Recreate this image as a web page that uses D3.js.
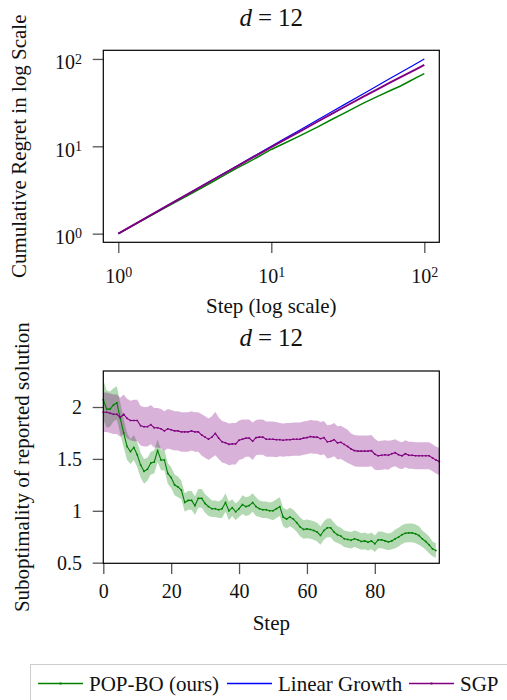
<!DOCTYPE html>
<html>
<head>
<meta charset="utf-8">
<script src="https://cdn.jsdelivr.net/npm/d3@7"></script>
<style>
  body { margin: 0; background: #fff; }
  svg { display: block; }
  text { font-family: "Liberation Serif", "Times New Roman", serif; fill: #111; }
</style>
</head>
<body>
<div id="chart"></div>
<script>
// ---- top panel: cumulative regret (log-log) ----
const regretSteps = [1, 2, 3, 4, 5, 6, 7, 8, 9, 10, 12, 15, 20, 25, 30, 40, 50, 60, 70, 80, 90, 100];
const regretPopbo = [1.0, 1.96, 2.88, 3.8, 4.75, 5.65, 6.5, 7.4, 8.3, 9.2, 10.7, 12.9, 16.6, 20.4, 24.0, 31.2, 37.5, 43.5, 49.0, 55.5, 62.0, 68.0];
const regretLinear = [1, 2, 3, 4, 5, 6, 7, 8, 9, 10, 12, 15, 20, 25, 30, 40, 50, 60, 70, 80, 90, 100];
const regretSgp = [1.0, 2.0, 2.99, 3.98, 4.95, 5.93, 6.9, 7.86, 8.82, 9.8, 11.7, 14.4, 19.1, 23.7, 28.2, 37.0, 45.5, 53.8, 62.0, 69.8, 77.6, 85.5];
const logTicks = [1, 10, 100];

// ---- bottom panel: suboptimality of reported solution ----
const popboMean = [2.07, 1.98, 1.98, 2.02, 2.04, 1.89, 1.75, 1.62, 1.57, 1.61,
  1.54, 1.44, 1.38, 1.40, 1.46, 1.47, 1.58, 1.49, 1.49, 1.36,
  1.32, 1.25, 1.23, 1.20, 1.08, 1.10, 1.10, 1.05, 1.12, 1.12,
  1.07, 1.04, 1.02, 1.02, 1.01, 1.02, 1.08, 1.00, 1.03, 0.99,
  1.02, 1.06, 1.04, 1.05, 1.08, 1.04, 1.02, 1.01, 1.01, 1.00,
  1.00, 1.02, 1.04, 0.94, 0.92, 0.94, 0.92, 0.885, 0.845, 0.82,
  0.826, 0.82, 0.81, 0.795, 0.762, 0.81, 0.836, 0.836, 0.795, 0.77,
  0.756, 0.73, 0.724, 0.716, 0.73, 0.72, 0.704, 0.71, 0.697, 0.71,
  0.682, 0.72, 0.72, 0.71, 0.70, 0.71, 0.73, 0.746, 0.77, 0.784,
  0.787, 0.787, 0.778, 0.762, 0.73, 0.704, 0.672, 0.633, 0.617];
const popboStd = [0.19, 0.18, 0.17, 0.16, 0.16, 0.15, 0.14, 0.13, 0.12, 0.12,
  0.12, 0.12, 0.12, 0.11, 0.11, 0.11, 0.11, 0.10, 0.10, 0.10,
  0.10, 0.10, 0.10, 0.09, 0.09, 0.09, 0.09, 0.09, 0.09, 0.09,
  0.09, 0.09, 0.08, 0.08, 0.08, 0.09, 0.09, 0.09, 0.08, 0.08,
  0.08, 0.09, 0.09, 0.09, 0.09, 0.09, 0.08, 0.08, 0.08, 0.08,
  0.09, 0.09, 0.09, 0.09, 0.09, 0.09, 0.09, 0.09, 0.09, 0.09,
  0.09, 0.09, 0.09, 0.09, 0.09, 0.09, 0.09, 0.09, 0.09, 0.08,
  0.08, 0.08, 0.08, 0.08, 0.08, 0.08, 0.08, 0.08, 0.08, 0.08,
  0.08, 0.08, 0.08, 0.08, 0.08, 0.08, 0.09, 0.09, 0.09, 0.09,
  0.09, 0.09, 0.09, 0.09, 0.08, 0.08, 0.08, 0.07, 0.07];
const sgpMean = [1.95, 1.95, 1.94, 1.93, 1.93, 1.90, 1.93, 1.89, 1.87, 1.87,
  1.87, 1.82, 1.81, 1.81, 1.83, 1.80, 1.80, 1.79, 1.77, 1.79,
  1.78, 1.77, 1.77, 1.76, 1.76, 1.76, 1.77, 1.76, 1.76, 1.73,
  1.71, 1.69, 1.71, 1.745, 1.70, 1.665, 1.655, 1.64, 1.645, 1.645,
  1.68, 1.69, 1.70, 1.70, 1.67, 1.705, 1.71, 1.71, 1.69, 1.69,
  1.69, 1.685, 1.685, 1.68, 1.685, 1.685, 1.69, 1.69, 1.69, 1.70,
  1.705, 1.715, 1.71, 1.71, 1.695, 1.705, 1.665, 1.67, 1.685, 1.655,
  1.66, 1.64, 1.62, 1.595, 1.58, 1.575, 1.575, 1.575, 1.575, 1.58,
  1.545, 1.53, 1.535, 1.54, 1.535, 1.55, 1.56, 1.54, 1.53, 1.55,
  1.535, 1.535, 1.53, 1.53, 1.53, 1.53, 1.53, 1.51, 1.49, 1.475];
const sgpStd = [0.19, 0.19, 0.19, 0.19, 0.19, 0.19, 0.19, 0.19, 0.19, 0.20,
  0.20, 0.19, 0.19, 0.19, 0.19, 0.19, 0.19, 0.19, 0.19, 0.19,
  0.19, 0.19, 0.19, 0.19, 0.19, 0.19, 0.19, 0.19, 0.19, 0.20,
  0.20, 0.20, 0.20, 0.21, 0.20, 0.20, 0.20, 0.20, 0.20, 0.20,
  0.19, 0.19, 0.18, 0.18, 0.18, 0.17, 0.17, 0.17, 0.17, 0.17,
  0.17, 0.17, 0.16, 0.16, 0.16, 0.16, 0.16, 0.16, 0.16, 0.16,
  0.16, 0.16, 0.16, 0.16, 0.16, 0.16, 0.16, 0.16, 0.16, 0.16,
  0.16, 0.16, 0.16, 0.15, 0.15, 0.15, 0.15, 0.15, 0.15, 0.15,
  0.15, 0.14, 0.14, 0.14, 0.14, 0.13, 0.13, 0.13, 0.13, 0.13,
  0.13, 0.13, 0.13, 0.13, 0.13, 0.13, 0.13, 0.13, 0.13, 0.13];
const subTicksX = [0, 20, 40, 60, 80];
const subTicksY = [0.5, 1, 1.5, 2];

const legendLabels = ["POP-BO (ours)", "Linear Growth", "SGP"];
const colors = { popbo: "#008000", linear: "#0000ff", sgp: "#800080" };

const W = 507, H = 700;
const svg = d3.select("#chart").append("svg").attr("width", W).attr("height", H);

const plotLeft = 103.3, plotRight = 439.3;
const tickColor = "#555";

function title(y) {
  const t = svg.append("text")
    .attr("x", (plotLeft + plotRight) / 2)
    .attr("y", y)
    .attr("text-anchor", "middle")
    .style("font-size", "25px");
  t.append("tspan").style("font-style", "italic").text("d");
  t.append("tspan").attr("dx", 6).text("=");
  t.append("tspan").attr("dx", 6).text("12");
}

function styleAxis(g) {
  g.select(".domain").remove();
  g.selectAll(".tick line").attr("stroke", tickColor).attr("stroke-width", 1.3);
  g.selectAll(".tick text").style("font-size", "20px").attr("fill", "#111")
    .style("font-family", "\"Liberation Serif\", \"Times New Roman\", serif");
}

function pow10Label(sel) {
  sel.each(function(d) {
    const t = d3.select(this);
    t.text(null);
    t.append("tspan").text("10");
    t.append("tspan").attr("dy", "-0.42em").style("font-size", "14px")
      .text(Math.round(Math.log10(d)));
  });
}

// ===== top panel =====
const topP = { y0: 50.3, y1: 242.3 };
const xLog = d3.scaleLog().domain([Math.pow(10, -0.098), Math.pow(10, 2.098)]).range([plotLeft, plotRight]);
const yLog = d3.scaleLog().domain([Math.pow(10, -0.099), Math.pow(10, 2.099)]).range([topP.y1, topP.y0]);

title(26);

const gxTop = svg.append("g").attr("transform", `translate(0,${topP.y1})`)
  .call(d3.axisBottom(xLog).tickValues(logTicks).tickSize(10.8));
styleAxis(gxTop);
gxTop.selectAll(".tick text").attr("y", 0).attr("dy", null).call(pow10Label)
  .attr("transform", "translate(0,40.7)");

const gyTop = svg.append("g").attr("transform", `translate(${plotLeft},0)`)
  .call(d3.axisLeft(yLog).tickValues(logTicks).tickSize(10.6).tickPadding(10.7));
styleAxis(gyTop);
gyTop.selectAll(".tick text").attr("dy", null).call(pow10Label)
  .attr("transform", "translate(0,10)");

const regretLine = vals => d3.line()
  .x((d, i) => xLog(regretSteps[i]))
  .y(d => yLog(d))(vals);

svg.append("path").attr("d", regretLine(regretPopbo))
  .attr("fill", "none").attr("stroke", colors.popbo).attr("stroke-width", 1.5);
svg.append("path").attr("d", regretLine(regretLinear))
  .attr("fill", "none").attr("stroke", colors.linear).attr("stroke-width", 1.2);
svg.append("path").attr("d", regretLine(regretSgp))
  .attr("fill", "none").attr("stroke", colors.sgp).attr("stroke-width", 1.9);

svg.append("rect").attr("x", plotLeft).attr("y", topP.y0)
  .attr("width", plotRight - plotLeft).attr("height", topP.y1 - topP.y0)
  .attr("fill", "none").attr("stroke", "#000").attr("stroke-width", 1.2);

svg.append("text").attr("transform", `translate(26,${(topP.y0 + topP.y1) / 2}) rotate(-90)`)
  .attr("text-anchor", "middle").style("font-size", "21px")
  .text("Cumulative Regret in log Scale");
svg.append("text").attr("x", (plotLeft + plotRight) / 2).attr("y", 313)
  .attr("text-anchor", "middle").style("font-size", "21px")
  .text("Step (log scale)");

// ===== bottom panel =====
const botP = { y0: 371, y1: 563.3 };
const xLin = d3.scaleLinear().domain([0, 99]).range([plotLeft, plotRight]);
const yLin = d3.scaleLinear().domain([0.494, 2.347]).range([botP.y1, botP.y0]);

title(346);

const gxBot = svg.append("g").attr("transform", `translate(0,${botP.y1})`)
  .call(d3.axisBottom(xLin).tickValues(subTicksX).tickSize(10.8).tickPadding(9.7).tickFormat(d3.format("d")));
styleAxis(gxBot);

const gyBot = svg.append("g").attr("transform", `translate(${plotLeft},0)`)
  .call(d3.axisLeft(yLin).tickValues(subTicksY).tickSize(10.6).tickPadding(10.7).tickFormat(d => String(d)));
styleAxis(gyBot);

const plotArea = svg.append("g");

function band(mean, std, color) {
  const area = d3.area()
    .x((d, i) => xLin(i))
    .y0((d, i) => yLin(d - std[i]))
    .y1((d, i) => yLin(d + std[i]));
  plotArea.append("path").attr("d", area(mean))
    .attr("fill", color).attr("fill-opacity", 0.3).attr("stroke", "none");
}
function meanLine(mean, color) {
  const line = d3.line().x((d, i) => xLin(i)).y(d => yLin(d));
  plotArea.append("path").attr("d", line(mean))
    .attr("fill", "none").attr("stroke", color).attr("stroke-width", 1.1);
  plotArea.append("g").selectAll("rect").data(mean).join("rect")
    .attr("x", (d, i) => xLin(i) - 0.8).attr("y", d => yLin(d) - 0.8)
    .attr("width", 1.6).attr("height", 1.6).attr("fill", color);
}

band(popboMean, popboStd, colors.popbo);
band(sgpMean, sgpStd, colors.sgp);
meanLine(popboMean, colors.popbo);
meanLine(sgpMean, colors.sgp);

svg.append("rect").attr("x", plotLeft).attr("y", botP.y0)
  .attr("width", plotRight - plotLeft).attr("height", botP.y1 - botP.y0)
  .attr("fill", "none").attr("stroke", "#000").attr("stroke-width", 1.2);

svg.append("text").attr("transform", `translate(29,${(botP.y0 + botP.y1) / 2}) rotate(-90)`)
  .attr("text-anchor", "middle").style("font-size", "21px")
  .text("Suboptimality of reported solution");
svg.append("text").attr("x", (plotLeft + plotRight) / 2).attr("y", 630)
  .attr("text-anchor", "middle").style("font-size", "21px")
  .text("Step");

// ===== legend =====
const legend = svg.append("g");
legend.append("rect").attr("x", 30.5).attr("y", 664.5).attr("width", 500).attr("height", 60)
  .attr("fill", "#fff").attr("stroke", "#ccc").attr("stroke-width", 1);

const legendItems = [
  { label: legendLabels[0], color: colors.popbo, x: 38, marker: true },
  { label: legendLabels[1], color: colors.linear, x: 227, marker: false },
  { label: legendLabels[2], color: colors.sgp, x: 409, marker: true }
];
const ly = 683.5;
legendItems.forEach(it => {
  legend.append("path").attr("d", `M${it.x},${ly}H${it.x + 45}`)
    .attr("fill", "none").attr("stroke", it.color).attr("stroke-width", 1.4);
  if (it.marker) {
    legend.append("rect").attr("x", it.x + 22.5 - 1).attr("y", ly - 1)
      .attr("width", 2).attr("height", 2).attr("fill", it.color);
  }
  legend.append("text").attr("x", it.x + 51).attr("y", 690.5)
    .style("font-size", "21px").text(it.label);
});
</script>
</body>
</html>
